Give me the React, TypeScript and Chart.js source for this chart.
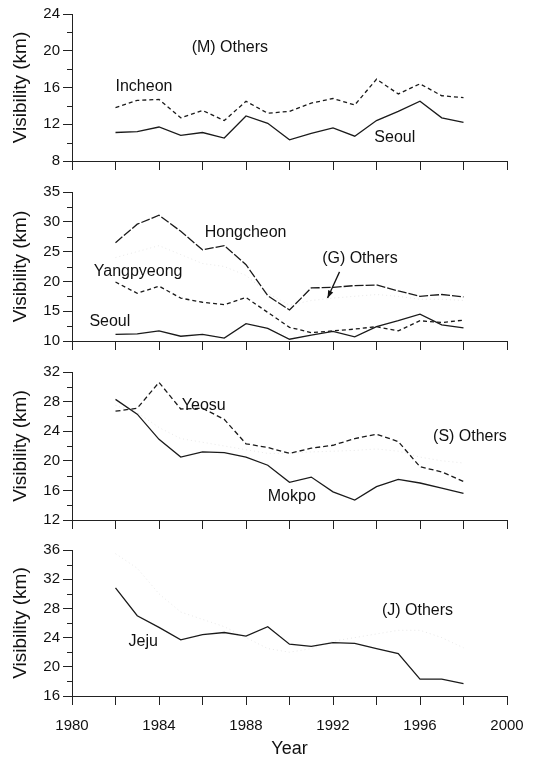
import React, { useEffect, useRef } from "react";
import { Chart, registerables } from "chart.js";

Chart.register(...registerables);

const FONT = '"Liberation Sans", Arial, Helvetica, sans-serif';

const years = [1982, 1983, 1984, 1985, 1986, 1987, 1988, 1989, 1990, 1991, 1992, 1993, 1994, 1995, 1996, 1997, 1998];

const seoul = [11.1, 11.2, 11.7, 10.8, 11.1, 10.5, 12.9, 12.1, 10.3, 11.0, 11.6, 10.7, 12.4, 13.4, 14.5, 12.7, 12.2];
const incheon = [13.8, 14.6, 14.7, 12.7, 13.5, 12.4, 14.5, 13.2, 13.4, 14.3, 14.8, 14.1, 16.9, 15.3, 16.4, 15.1, 14.9];

const hongcheon = [26.5, 29.6, 31.1, 28.4, 25.3, 26.0, 22.8, 17.6, 15.2, 18.9, 19.0, 19.3, 19.4, 18.4, 17.5, 17.8, 17.4];
const yangpyeong = [19.9, 18.0, 19.2, 17.2, 16.5, 16.1, 17.3, 14.8, 12.3, 11.4, 11.7, 12.0, 12.4, 11.7, 13.4, 13.1, 13.5];
const othersG = [24, 25, 26, 24.5, 23, 22.5, 21, 18, 16, 16.8, 17.2, 17.5, 17.8, 17.5, 17, 17, 16.8];

const mokpo = [28.3, 26.3, 22.9, 20.5, 21.2, 21.1, 20.5, 19.4, 17.1, 17.8, 15.8, 14.7, 16.5, 17.5, 17.0, 16.3, 15.6];
const yeosu = [26.7, 27.1, 30.6, 27.0, 27.1, 25.6, 22.3, 21.8, 21.0, 21.7, 22.1, 23.0, 23.6, 22.6, 19.2, 18.5, 17.2];
const othersS = [27.5, 26.5, 24.5, 23, 22.5, 22, 21.5, 21, 21, 21.2, 21.3, 21.4, 21.6, 21.3, 20.5, 20, 19.7];

const jeju = [30.8, 27.0, 25.4, 23.7, 24.4, 24.7, 24.2, 25.5, 23.1, 22.8, 23.3, 23.2, 22.5, 21.8, 18.3, 18.3, 17.7];
const othersJ = [35.5, 33.5, 30, 27.5, 26.5, 25.5, 24, 22.5, 22, 22.5, 23.5, 24, 24.5, 25, 25, 24, 22.6];

const xTickLabels = ["1980", "1984", "1988", "1992", "1996", "2000"];

type Series = { data: number[]; dash: number[]; color: string; width: number };
type Label = { text: string; x: number; y: number };
type PanelCfg = {
  top: number;
  height: number;
  padTop: number;
  xAxisH: number;
  yMin: number;
  yMax: number;
  yStep: number;
  minorStep: number;
  series: Series[];
  labels: Label[];
  arrow?: { x1: number; y1: number; x2: number; y2: number };
  bottom: boolean;
};

const INK = "#1a1a1a";
const FAINT = "rgba(150,150,150,0.22)";

const panels: PanelCfg[] = [
  {
    top: 0, height: 180, padTop: 14, xAxisH: 19,
    yMin: 8, yMax: 24, yStep: 4, minorStep: 2,
    series: [
      { data: incheon, dash: [4, 3], color: INK, width: 1.3 },
      { data: seoul, dash: [], color: INK, width: 1.3 },
    ],
    labels: [
      { text: "(M) Others", x: 1985.5, y: 20.3 },
      { text: "Incheon", x: 1982.0, y: 16.1 },
      { text: "Seoul", x: 1993.9, y: 10.5 },
    ],
    bottom: false,
  },
  {
    top: 180, height: 180, padTop: 11, xAxisH: 19,
    yMin: 10, yMax: 35, yStep: 5, minorStep: 2.5,
    series: [
      { data: othersG, dash: [1, 3], color: FAINT, width: 1 },
      { data: hongcheon, dash: [9, 2], color: INK, width: 1.3 },
      { data: yangpyeong, dash: [4, 3], color: INK, width: 1.3 },
      { data: seoul, dash: [], color: INK, width: 1.3 },
    ],
    labels: [
      { text: "Hongcheon", x: 1986.1, y: 28.2 },
      { text: "(G) Others", x: 1991.5, y: 23.8 },
      { text: "Yangpyeong", x: 1981.0, y: 21.6 },
      { text: "Seoul", x: 1980.8, y: 13.2 },
    ],
    arrow: { x1: 1992.3, y1: 21.6, x2: 1991.75, y2: 17.2 },
    bottom: false,
  },
  {
    top: 360, height: 180, padTop: 12, xAxisH: 20,
    yMin: 12, yMax: 32, yStep: 4, minorStep: 2,
    series: [
      { data: othersS, dash: [1, 3], color: FAINT, width: 1 },
      { data: yeosu, dash: [5, 3], color: INK, width: 1.3 },
      { data: mokpo, dash: [], color: INK, width: 1.3 },
    ],
    labels: [
      { text: "Yeosu", x: 1985.05, y: 27.5 },
      { text: "(S) Others", x: 1996.6, y: 23.3 },
      { text: "Mokpo", x: 1989.0, y: 15.15 },
    ],
    bottom: false,
  },
  {
    top: 538, height: 223, padTop: 11, xAxisH: 65,
    yMin: 16, yMax: 36, yStep: 4, minorStep: 2,
    series: [
      { data: othersJ, dash: [1, 3], color: FAINT, width: 1 },
      { data: jeju, dash: [], color: INK, width: 1.3 },
    ],
    labels: [
      { text: "Jeju", x: 1982.6, y: 23.4 },
      { text: "(J) Others", x: 1994.25, y: 27.7 },
    ],
    bottom: true,
  },
];

function Panel({ cfg }: { cfg: PanelCfg }) {
  const ref = useRef<HTMLCanvasElement | null>(null);

  useEffect(() => {
    if (!ref.current) return;
    const overlay = {
      id: "overlay" + cfg.top,
      afterDraw(chart: any) {
        const { ctx } = chart;
        const xs = chart.scales.x;
        const ys = chart.scales.y;
        ctx.save();
        ctx.strokeStyle = "#222";
        ctx.lineWidth = 1;
        const n = Math.round((cfg.yMax - cfg.yMin) / cfg.minorStep);
        for (let i = 0; i <= n; i++) {
          const v = cfg.yMin + i * cfg.minorStep;
          const r = (v - cfg.yMin) / cfg.yStep;
          if (Math.abs(r - Math.round(r)) < 1e-6) continue;
          const py = Math.round(ys.getPixelForValue(v)) + 0.5;
          ctx.beginPath();
          ctx.moveTo(ys.right - 5, py);
          ctx.lineTo(ys.right, py);
          ctx.stroke();
        }
        ctx.fillStyle = "#111";
        ctx.font = `16px ${FONT}`;
        ctx.textAlign = "left";
        ctx.textBaseline = "middle";
        for (const l of cfg.labels) {
          ctx.fillText(l.text, xs.getPixelForValue(l.x), ys.getPixelForValue(l.y));
        }
        if (cfg.arrow) {
          const a = cfg.arrow;
          const x1 = xs.getPixelForValue(a.x1);
          const y1 = ys.getPixelForValue(a.y1);
          const x2 = xs.getPixelForValue(a.x2);
          const y2 = ys.getPixelForValue(a.y2);
          ctx.strokeStyle = "#111";
          ctx.lineWidth = 1.3;
          ctx.beginPath();
          ctx.moveTo(x1, y1);
          ctx.lineTo(x2, y2);
          ctx.stroke();
          const ang = Math.atan2(y2 - y1, x2 - x1);
          const hl = 8;
          ctx.beginPath();
          ctx.moveTo(x2, y2);
          ctx.lineTo(x2 - hl * Math.cos(ang - 0.35), y2 - hl * Math.sin(ang - 0.35));
          ctx.lineTo(x2 - hl * Math.cos(ang + 0.35), y2 - hl * Math.sin(ang + 0.35));
          ctx.closePath();
          ctx.fillStyle = "#111";
          ctx.fill();
        }
        ctx.restore();
      },
    };

    const chart = new Chart(ref.current, {
      type: "line",
      data: {
        datasets: cfg.series.map((s, i) => ({
          label: "s" + i,
          data: years.map((yr, j) => ({ x: yr, y: s.data[j] })),
          borderColor: s.color,
          borderWidth: s.width,
          borderDash: s.dash,
          pointRadius: 0,
          fill: false,
          tension: 0,
        })),
      },
      options: {
        responsive: false,
        animation: false,
        devicePixelRatio: 1,
        layout: { padding: { top: cfg.padTop, left: 0, right: 33, bottom: 0 } },
        plugins: { legend: { display: false }, tooltip: { enabled: false } },
        scales: {
          x: {
            type: "linear",
            min: 1980,
            max: 2000,
            ticks: {
              stepSize: 2,
              autoSkip: false,
              maxRotation: 0,
              padding: 12,
              color: "#111",
              font: { family: FONT, size: 15 },
              callback: (v: any) => {
                const s = String(v);
                return cfg.bottom && xTickLabels.includes(s) ? s : "";
              },
            },
            grid: { drawOnChartArea: false, drawTicks: true, tickLength: 9, color: "#222" },
            border: { display: true, color: "#222", width: 1 },
            title: {
              display: cfg.bottom,
              text: "Year",
              color: "#111",
              font: { family: FONT, size: 18 },
              padding: { top: 0, bottom: 1 },
            },
            afterFit: (s: any) => {
              s.height = cfg.xAxisH;
            },
          },
          y: {
            min: cfg.yMin,
            max: cfg.yMax,
            ticks: {
              stepSize: cfg.yStep,
              padding: 3,
              color: "#111",
              font: { family: FONT, size: 15 },
            },
            grid: { drawOnChartArea: false, drawTicks: true, tickLength: 9, color: "#222" },
            border: { display: true, color: "#222", width: 1 },
            title: {
              display: true,
              text: "Visibility (km)",
              color: "#111",
              font: { family: FONT, size: 19 },
              padding: { top: 9, bottom: 0 },
            },
            afterFit: (s: any) => {
              s.width = 72;
            },
          },
        },
      },
      plugins: [overlay],
    } as any);

    return () => chart.destroy();
  }, [cfg]);

  return (
    <canvas
      ref={ref}
      width={540}
      height={cfg.height}
      style={{ position: "absolute", left: 0, top: cfg.top, width: 540, height: cfg.height }}
    />
  );
}

export default function App() {
  return (
    <div style={{ position: "absolute", left: 0, top: 0, width: 540, height: 761, background: "#fff", overflow: "hidden" }}>
      {panels.map((p, i) => (
        <Panel key={i} cfg={p} />
      ))}
    </div>
  );
}
